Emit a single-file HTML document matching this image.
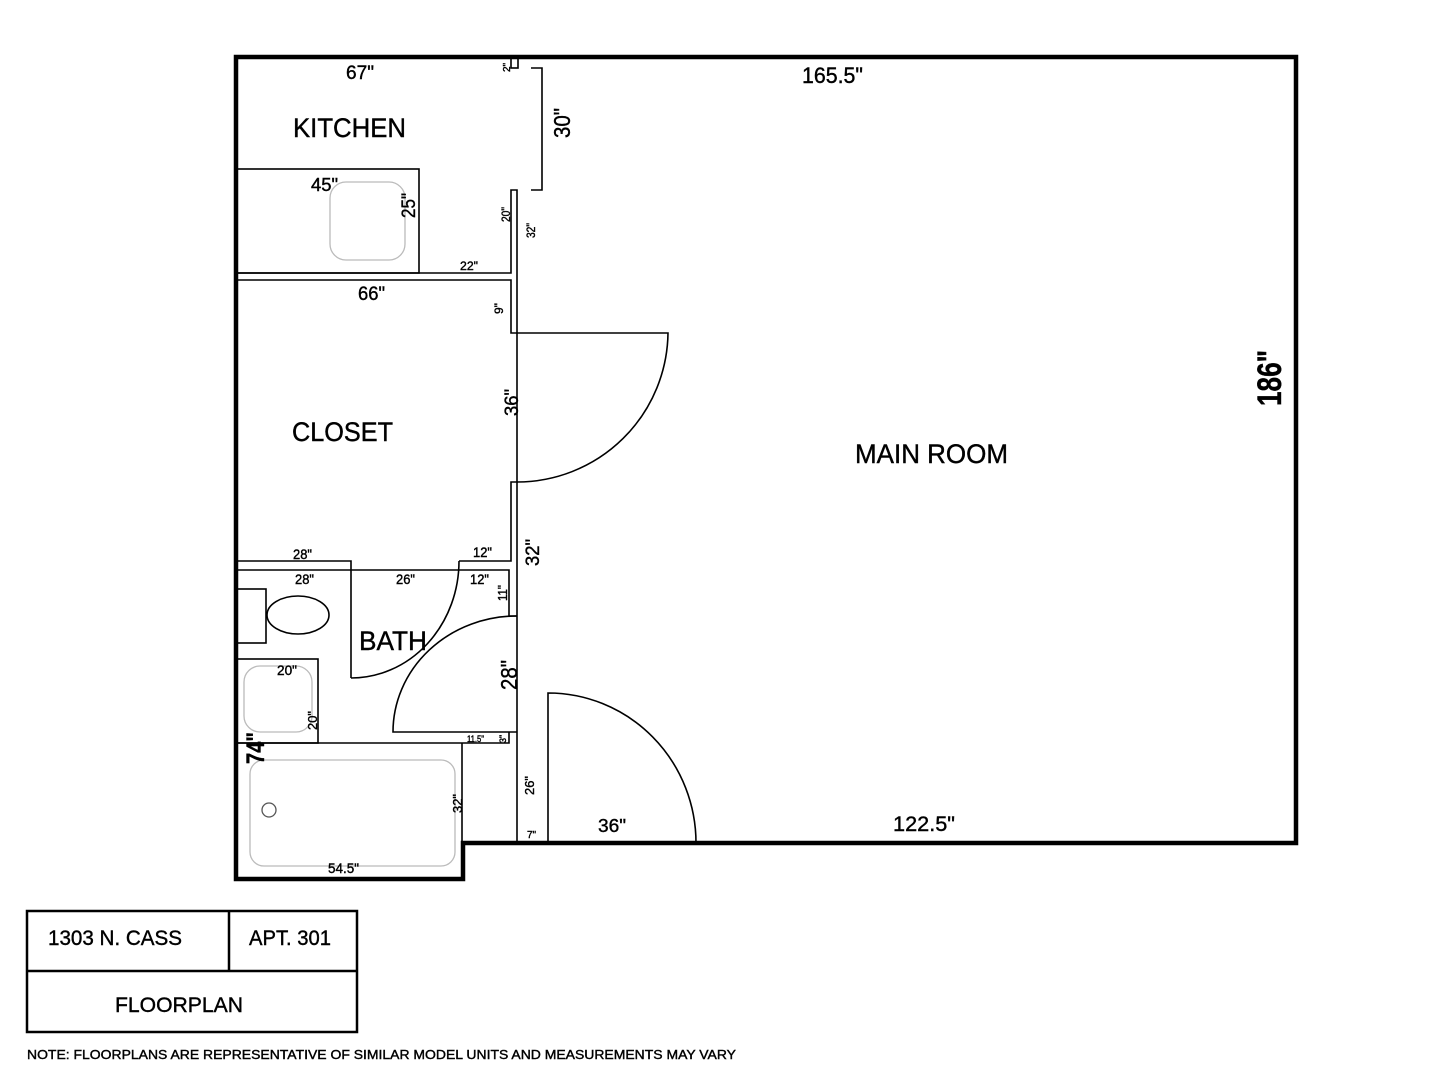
<!DOCTYPE html>
<html><head><meta charset="utf-8"><style>
html,body{margin:0;padding:0;background:#fff;width:1440px;height:1080px;overflow:hidden}
svg text{font-family:"Liberation Sans",sans-serif;fill:#000;stroke:#000;stroke-width:0.4}
</style></head><body>
<svg width="1440" height="1080" viewBox="0 0 1440 1080" xmlns="http://www.w3.org/2000/svg">
<g fill="none" stroke="#000">
<path d="M236,57 L1296,57 L1296,843 L463,843 L463,879 L236,879 Z" stroke-width="4.5" stroke-linejoin="miter"/>
<g stroke-width="1.6">
<rect x="511" y="57" width="7" height="11"/>
<path d="M531,68 L542,68 L542,190 L531,190"/>
<path d="M236,273 L511,273 L511,190 L517,190 L517,333"/>
<path d="M236,280 L511,280 L511,333 L517,333"/>
<rect x="236" y="169" width="183" height="104"/>
<path d="M517,333 L668,333 A151,151 0 0 1 517,482"/>
<path d="M517,333 L517,482 L511,482 L511,561 L459,561"/>
<path d="M236,561 L351,561 L351,678"/>
<path d="M236,570 L509,570 L509,616 L517,616"/>
<path d="M459,561 A108,117 0 0 1 351,678"/>
<path d="M517,482 L517,843"/>
<path d="M517,616 A124,116 0 0 0 393,732 L517,732"/>
<path d="M236,743 L509,743 L509,732"/>
<rect x="236" y="589" width="30" height="54"/>
<ellipse cx="298" cy="615" rx="31" ry="19"/>
<rect x="236" y="659" width="82" height="84"/>
<path d="M462,743 L462,843"/>
<path d="M548,843 L548,693 A148,150 0 0 1 696,843"/>
</g>
<g stroke="#bbb" stroke-width="1.3">
<rect x="330" y="182" width="75" height="78" rx="16"/>
<rect x="244" y="666" width="68" height="66" rx="16"/>
<rect x="250" y="760" width="205" height="106" rx="14"/>
<circle cx="269" cy="810" r="7" stroke="#555"/>
</g>
<rect x="27" y="911" width="330" height="121" stroke-width="2.5"/>
<path d="M27,971 L357,971 M229,911 L229,971" stroke-width="2.5"/>
</g>
<g>
<text x="293" y="137" font-size="27" textLength="113" lengthAdjust="spacingAndGlyphs">KITCHEN</text>
<text x="292" y="441" font-size="27" textLength="101" lengthAdjust="spacingAndGlyphs">CLOSET</text>
<text x="855" y="463" font-size="27" textLength="153" lengthAdjust="spacingAndGlyphs">MAIN ROOM</text>
<text x="359" y="650" font-size="27" textLength="68" lengthAdjust="spacingAndGlyphs">BATH</text>
<text x="346" y="79" font-size="19" textLength="28" lengthAdjust="spacingAndGlyphs">67"</text>
<text x="802" y="83" font-size="22" textLength="61" lengthAdjust="spacingAndGlyphs">165.5"</text>
<text x="311" y="191" font-size="18" textLength="27" lengthAdjust="spacingAndGlyphs">45"</text>
<text x="460" y="270" font-size="12" textLength="18" lengthAdjust="spacingAndGlyphs">22"</text>
<text x="358" y="300" font-size="19" textLength="27" lengthAdjust="spacingAndGlyphs">66"</text>
<text x="293" y="559" font-size="14" textLength="19" lengthAdjust="spacingAndGlyphs">28"</text>
<text x="295" y="584" font-size="14" textLength="19" lengthAdjust="spacingAndGlyphs">28"</text>
<text x="396" y="584" font-size="14" textLength="19" lengthAdjust="spacingAndGlyphs">26"</text>
<text x="473" y="557" font-size="14" textLength="19" lengthAdjust="spacingAndGlyphs">12"</text>
<text x="470" y="584" font-size="14" textLength="19" lengthAdjust="spacingAndGlyphs">12"</text>
<text x="277" y="675" font-size="14" textLength="20" lengthAdjust="spacingAndGlyphs">20"</text>
<text x="467" y="742" font-size="9" textLength="17" lengthAdjust="spacingAndGlyphs">11.5"</text>
<text x="328" y="873" font-size="14" textLength="31" lengthAdjust="spacingAndGlyphs">54.5"</text>
<text x="598" y="832" font-size="18" textLength="28" lengthAdjust="spacingAndGlyphs">36"</text>
<text x="893" y="831" font-size="21" textLength="62" lengthAdjust="spacingAndGlyphs">122.5"</text>
<text x="527" y="838" font-size="10">7"</text>
<text transform="translate(570,138) rotate(-90)" font-size="23" textLength="30" lengthAdjust="spacingAndGlyphs">30"</text>
<text transform="translate(510,72) rotate(-90)" font-size="10">2"</text>
<text transform="translate(415,218) rotate(-90)" font-size="19" textLength="25" lengthAdjust="spacingAndGlyphs">25"</text>
<text transform="translate(510,222) rotate(-90)" font-size="12" textLength="15" lengthAdjust="spacingAndGlyphs">20"</text>
<text transform="translate(535,238) rotate(-90)" font-size="12" textLength="15" lengthAdjust="spacingAndGlyphs">32"</text>
<text transform="translate(503,314) rotate(-90)" font-size="12">9"</text>
<text transform="translate(518,416) rotate(-90)" font-size="19" textLength="27" lengthAdjust="spacingAndGlyphs">36"</text>
<text transform="translate(539,566) rotate(-90)" font-size="19" textLength="27" lengthAdjust="spacingAndGlyphs">32"</text>
<text transform="translate(507,601) rotate(-90)" font-size="13" textLength="16" lengthAdjust="spacingAndGlyphs">11"</text>
<text transform="translate(517,690) rotate(-90)" font-size="23" textLength="30" lengthAdjust="spacingAndGlyphs">28"</text>
<text transform="translate(506,743) rotate(-90)" font-size="9">3"</text>
<text transform="translate(317,730) rotate(-90)" font-size="13" textLength="19" lengthAdjust="spacingAndGlyphs">20"</text>
<text transform="translate(462,813) rotate(-90)" font-size="13" textLength="19" lengthAdjust="spacingAndGlyphs">32"</text>
<text transform="translate(534,795) rotate(-90)" font-size="13" textLength="19" lengthAdjust="spacingAndGlyphs">26"</text>
<text transform="translate(264,764) rotate(-90)" font-size="25" font-weight="bold" textLength="32" lengthAdjust="spacingAndGlyphs">74"</text>
<text transform="translate(1281,406) rotate(-90)" font-size="34" font-weight="bold" textLength="56" lengthAdjust="spacingAndGlyphs">186"</text>
<text x="48" y="945" font-size="21" textLength="134" lengthAdjust="spacingAndGlyphs">1303 N. CASS</text>
<text x="249" y="945" font-size="21" textLength="82" lengthAdjust="spacingAndGlyphs">APT. 301</text>
<text x="115" y="1012" font-size="21" textLength="128" lengthAdjust="spacingAndGlyphs">FLOORPLAN</text>
<text x="27" y="1059" font-size="13" textLength="709" lengthAdjust="spacingAndGlyphs">NOTE: FLOORPLANS ARE REPRESENTATIVE OF SIMILAR MODEL UNITS AND MEASUREMENTS MAY VARY</text>
</g>
</svg>
</body></html>
